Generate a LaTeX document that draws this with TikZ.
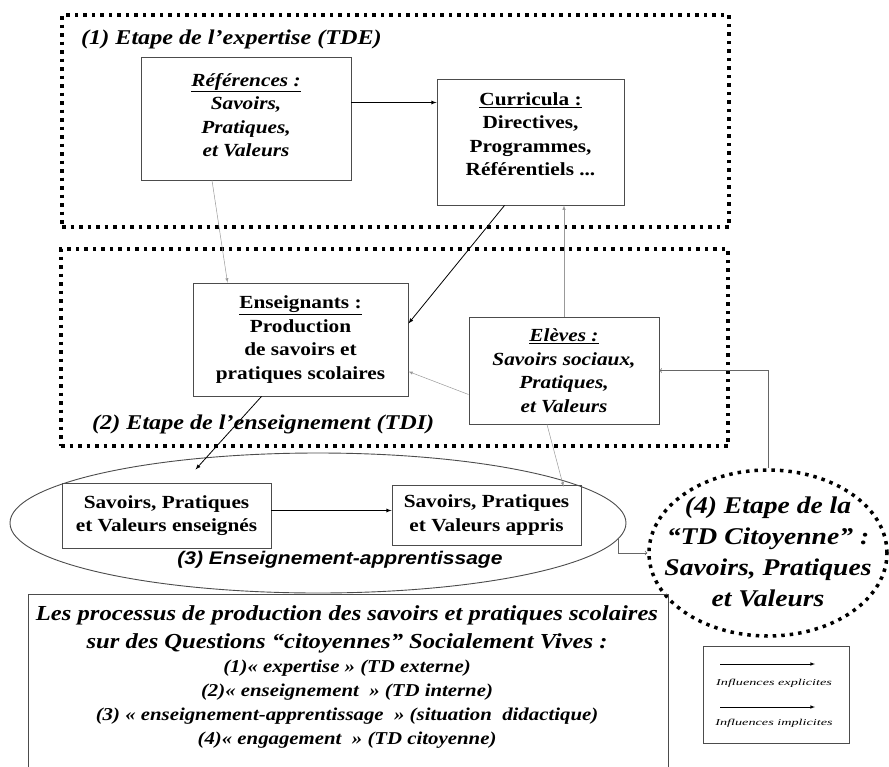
\documentclass[tikz,border=0pt]{standalone}
\usepackage{fontspec}
\setmainfont{Liberation Serif}[FakeStretch=1.15]
\newfontfamily\arialfont{Liberation Sans}[FakeStretch=1.15]
\newfontfamily\legendfamily{Liberation Serif}[FakeStretch=1.58]
\usetikzlibrary{shapes.geometric}

\newcommand\boxfont{\fontsize{18.5}{23.5}\selectfont\bfseries}
\newcommand\stagefont{\fontsize{21}{25}\selectfont\bfseries\itshape}
\newcommand\bigfont{\fontsize{24}{31}\selectfont\bfseries\itshape}
\newcommand\legfont{\legendfamily\fontsize{9}{10}\selectfont\itshape}

\begin{document}
\begin{tikzpicture}[x=1pt,y=-1pt,
    stage/.style={draw, line width=3.5pt, dash pattern=on 3.5pt off 5pt, inner sep=0pt},
    box/.style={draw=black!70, line width=0.9pt, inner sep=0pt, align=center, font=\boxfont},
    expl/.style={-latex, line width=0.8pt},
    impl/.style={-latex, line width=0.5pt, black!40},
    open/.style={-to, line width=0.7pt, black!60}]
\useasboundingbox (0,0) rectangle (889,766);

% (1) expertise
\node[stage, minimum width=667pt, minimum height=212pt] (tde) at (395.5,121) {};
\node[anchor=west, inner sep=0pt, font=\stagefont] (tdetitle) at (81,39) {(1) Etape de l'expertise (TDE)};
\node[box, minimum width=210pt, minimum height=123pt] (ref) at (246,118.5)
  {\itshape\underline{Références :}\\ \itshape Savoirs,\\ \itshape Pratiques,\\ \itshape et Valeurs\\[-16.5pt]};
\node[box, minimum width=187pt, minimum height=126pt] (cur) at (530.5,142)
  {\underline{Curricula :}\\ Directives,\\ Programmes,\\ Référentiels ...\\[-7.5pt]};

% (2) enseignement
\node[stage, minimum width=667pt, minimum height=197pt] (tdi) at (394.5,347.5) {};
\node[anchor=west, inner sep=0pt, font=\stagefont] (tdititle) at (92,424) {(2) Etape de l'enseignement (TDI)};
\node[box, minimum width=215pt, minimum height=113pt] (ens) at (300.5,339.5)
  {\underline{Enseignants :}\\ Production\\ de savoirs et\\ pratiques scolaires};
\node[box, minimum width=190pt, minimum height=107pt] (elev) at (564,370.5)
  {\itshape\underline{Elèves :}\\ \itshape Savoirs sociaux,\\ \itshape Pratiques,\\ \itshape et Valeurs};

% (3) enseignement-apprentissage
\node[ellipse, draw=black!70, line width=0.9pt, minimum width=616pt, minimum height=140pt] (ell) at (318,523) {};
\node[box, minimum width=209pt, minimum height=65pt] (ensg) at (166.5,515.5)
  {Savoirs, Pratiques\\ et Valeurs enseignés};
\node[box, minimum width=189pt, minimum height=60pt] (appr) at (486.5,515)
  {Savoirs, Pratiques\\ et Valeurs appris};
\node[inner sep=0pt, font=\arialfont\fontsize{18.3}{22}\selectfont\bfseries\itshape] (elltitle) at (340,560)
  {(3) Enseignement-apprentissage};

% (4) TD citoyenne
\node[ellipse, line width=3.5pt, draw, dash pattern=on 3.5pt off 5pt, minimum width=238pt, minimum height=166pt,
  inner sep=0pt] (circ) at (768,553) {};
\node[inner sep=0pt, align=center, font=\bigfont] (circtext) at (768,552)
  {(4) Etape de la\\ “TD Citoyenne” :\\ Savoirs, Pratiques\\ et Valeurs};

% processus
\draw[draw=black!70, line width=0.9pt] (28,770) -- (28,594) -- (668,594) -- (668,770);
\node[inner sep=0pt, align=center, font=\fontsize{21.4}{28}\selectfont\bfseries\itshape] (proctitle) at (347,629)
  {Les processus de production des savoirs et pratiques scolaires\\ sur des Questions “citoyennes” Socialement Vives :};
\node[inner sep=0pt, align=center, font=\fontsize{18.1}{24}\selectfont\bfseries\itshape] (proclist) at (347,704)
  {(1)« expertise » (TD externe)\\ (2)« enseignement~ » (TD interne)\\
   (3) « enseignement-apprentissage~ » (situation~ didactique)\\ (4)« engagement~ » (TD citoyenne)};

% legende
\node[draw=black!70, line width=0.9pt, minimum width=146pt, minimum height=97pt] (leg) at (776,694.5) {};
\coordinate (lexa) at (720,664);
\coordinate (lexb) at (815,664);
\coordinate (lima) at (720,707);
\coordinate (limb) at (815,707);
\draw[expl, line width=0.6pt] (lexa) -- (lexb);
\draw[expl, line width=0.6pt] (lima) -- (limb);
\node[inner sep=0pt, font=\legfont] (lexp) at (774,683) {Influences explicites};
\node[inner sep=0pt, font=\legfont] (limp) at (774,723) {Influences implicites};

% influences
\draw[expl] ([yshift=16pt]ref.east) -- ([yshift=16pt]ref.east -| cur.west);
\draw[impl] ([xshift=-34pt]ref.south) -- ([xshift=-73pt]ens.north);
\draw[expl] ([xshift=-26pt]cur.south) -- ([yshift=16pt]ens.east);
\draw[impl] (elev.north) -- (elev.north |- cur.south);
\draw[impl] ([yshift=-24pt]elev.west) -- ([yshift=-32pt]ens.east);
\draw[expl] ([xshift=-39pt]ens.south) -- ([xshift=29pt, yshift=13pt]ensg.north);
\draw[impl] ([xshift=-17pt]elev.south) -- ([xshift=77pt, yshift=-2pt]appr.north);
\draw[expl] ([yshift=5pt]ensg.east) -- ([yshift=5pt]ensg.east -| appr.west);
\draw[open] (circ.north) |- (elev.east);
\draw[open] (ell.-3.6) |- (circ.west);
\end{tikzpicture}
\end{document}
